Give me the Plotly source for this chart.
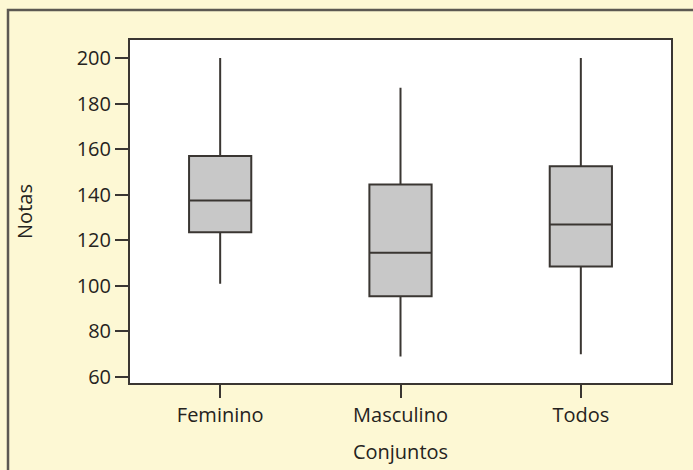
import plotly.graph_objects as go

categorias = ["Feminino", "Masculino", "Todos"]
minimos = [101, 69, 70]
q1 = [123.5, 95.5, 108.5]
medianas = [137.5, 114.5, 127]
q3 = [157, 144.5, 152.5]
maximos = [200, 187, 200]
y_ticks = [60, 80, 100, 120, 140, 160, 180, 200]

linha = "#3a3632"
texto = "#252320"
creme = "#fdf8d4"

fig = go.Figure()
fig.add_trace(go.Box(
    x=categorias,
    q1=q1, median=medianas, q3=q3,
    lowerfence=minimos, upperfence=maximos,
    fillcolor="#c8c8c8",
    line=dict(color=linha, width=2),
    whiskerwidth=0,
    width=0.345,
    boxpoints=False,
    hoverinfo="skip",
    showlegend=False,
))

fnt = dict(family="Open Sans, Lato, sans-serif", size=20, color=texto)

fig.update_layout(
    width=693, height=470,
    margin=dict(l=130, r=22, t=40, b=87, autoexpand=False),
    paper_bgcolor=creme,
    plot_bgcolor="white",
    font=fnt,
    xaxis=dict(
        range=[-0.5, 2.5],
        automargin=False,
        showgrid=False, zeroline=False,
        showline=True, linecolor=linha, linewidth=2, mirror=True,
        ticks="outside", ticklen=13, tickwidth=2, tickcolor=linha,
        title=dict(text="Conjuntos", standoff=18, font=fnt),
        tickfont=fnt,
    ),
    yaxis=dict(
        range=[57.4, 207.9],
        automargin=False,
        tickvals=y_ticks,
        showgrid=False, zeroline=False,
        showline=True, linecolor=linha, linewidth=2, mirror=True,
        ticks="outside", ticklen=13, tickwidth=2, tickcolor=linha,
        title=dict(text="Notas", standoff=39, font=fnt),
        tickfont=fnt,
    ),
    shapes=[dict(
        type="rect", xref="paper", yref="paper",
        x0=-0.2255, x1=1.2, y0=-0.5, y1=1.0875,
        line=dict(color="#5c5852", width=2.5),
        fillcolor="rgba(0,0,0,0)", layer="below",
    )],
)

fig.write_html(
    "out.html",
    config={"displayModeBar": False},
    post_script="document.body.style.margin='0';document.body.style.background='%s';" % creme,
)
